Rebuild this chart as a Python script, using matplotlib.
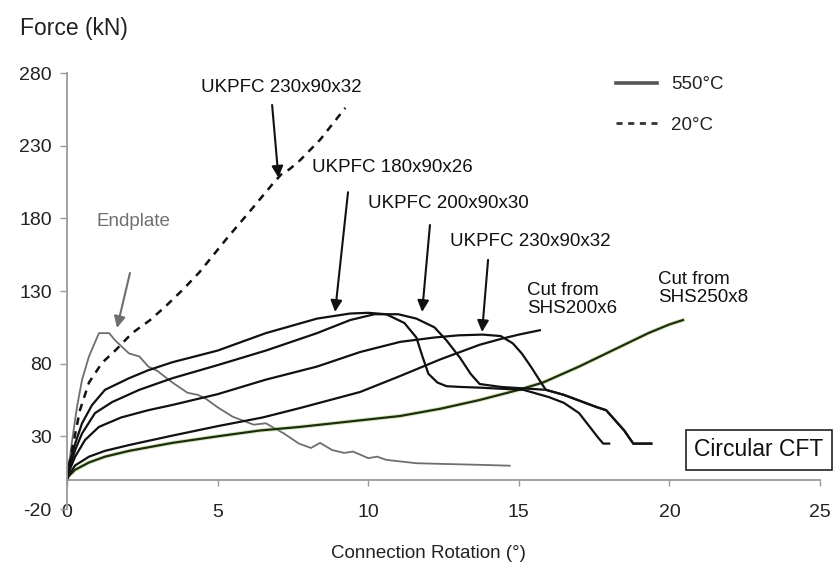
import matplotlib
matplotlib.use('Agg')
import matplotlib.pyplot as plt
from matplotlib.lines import Line2D

plt.rcParams['font.family'] = ['Liberation Sans', 'DejaVu Sans']
plt.rcParams['axes.unicode_minus'] = False

# ---------------- data ----------------
x_ticks = [0, 5, 10, 15, 20, 25]
y_ticks = [-20, 30, 80, 130, 180, 230, 280]

endplate_x = [0, 0.17, 0.33, 0.5, 0.73, 1.06, 1.4, 1.6, 2.06, 2.4, 2.7, 3.0, 3.5, 4.0, 4.35, 4.6,
              5.0, 5.5, 6.2, 6.6, 7.2, 7.7, 8.1, 8.4, 8.8, 9.2, 9.5, 10.0, 10.3, 10.6, 11.6, 12.5,
              13.5, 14.7]
endplate_y = [0, 27, 50, 69, 85, 101, 101, 96, 87, 85, 78, 75, 67, 60, 58.5, 56,
              50, 43.5, 38, 39, 32, 25, 22, 25.5, 20.6, 18.6, 19.5, 15, 16, 13.8, 11.5, 11,
              10.5, 9.8]

ukpfc230_20c_x = [0, 0.1, 0.43, 0.73, 1.16, 1.6, 2.16, 2.76, 3.3, 3.85, 4.4, 5.3, 6.2, 6.8,
                  7.1, 7.4, 7.74, 8.4, 9.24]
ukpfc230_20c_y = [0, 13.7, 48, 67, 80.5, 89, 101, 110, 120, 131, 143, 166, 188, 203,
                  210, 214, 220, 234, 256]

ukpfc180_x = [0, 0.07, 0.27, 0.5, 0.83, 1.26, 2.06, 2.7, 3.5, 5.0, 6.6, 8.3, 9.4, 10.0, 10.6,
              11.2, 11.6, 11.8, 12.0, 12.3, 12.6, 13.05, 13.7, 15.15, 16.0, 16.5, 17.0,
              17.6, 17.8, 18.0]
ukpfc180_y = [0, 11, 25, 39, 51.5, 62, 70, 75.5, 81, 89, 101, 111, 114.5, 115, 114,
              108, 98, 85, 73, 67, 64.5, 64, 63.5, 62, 57, 53, 46,
              30, 25, 25]

ukpfc200_x = [0, 0.05, 0.27, 0.5, 0.93, 1.5, 2.4, 3.5, 5.0, 6.6, 8.3, 9.4, 10.2, 11.0,
              11.6, 12.2, 12.6, 13.05, 13.4, 13.7, 14.4, 15.9, 16.5, 17.6, 17.9, 18.5,
              18.8, 19.4]
ukpfc200_y = [0, 6, 20.6, 32, 46, 53.6, 62, 70, 79, 89, 101, 110, 114, 114,
              111, 105, 96, 84, 73, 66, 64, 62, 58.5, 50, 48, 34,
              25, 25]

ukpfc230_x = [0, 0.05, 0.27, 0.6, 1.06, 1.8, 2.7, 3.5, 5.0, 6.6, 8.3, 9.73, 11.06, 12.2,
              13.0, 13.8, 14.4, 14.8, 15.1, 15.4, 15.8, 15.9, 16.5, 17.6, 17.9, 18.5,
              18.8, 19.4]
ukpfc230_y = [0, 5, 16, 27.5, 36.5, 43, 48, 51.6, 59, 69, 78, 88, 95, 98,
              99.5, 100, 99, 94, 87, 78, 65, 62, 58.5, 50, 48, 34,
              25, 25]

shs200_x = [0, 0.05, 0.27, 0.73, 1.26, 2.06, 3.5, 5.0, 6.5, 7.74, 9.73, 11.06, 12.4, 13.7,
            14.4, 15.0, 15.7]
shs200_y = [0, 3, 10, 16, 20, 24, 30.5, 37, 43, 49.5, 60.5, 71.5, 83, 93,
            97, 100, 103]

shs250_x = [0, 0.05, 0.27, 0.73, 1.26, 2.06, 3.5, 5.0, 6.4, 7.74, 9.73, 11.06, 12.4, 13.7,
            15.0, 15.8, 17.0, 18.1, 19.3, 20.0, 20.45]
shs250_y = [0, 2.5, 7, 12, 16, 20, 25.5, 30, 34, 36.5, 41, 44, 49, 55,
            62, 67, 78, 89, 101, 107, 110]

legend_labels = ['550°C', '20°C']

# ---------------- figure ----------------
fig = plt.figure(figsize=(8.37, 5.77), dpi=100)
ax = fig.add_axes([67 / 837, 68 / 577, 753 / 837, 436 / 577])
ax.set_xlim(0, 25)
ax.set_ylim(-20, 280)
ax.set_xticks(x_ticks)
ax.set_yticks(y_ticks)

for s in ['top', 'right']:
    ax.spines[s].set_visible(False)
ax.spines['bottom'].set_position(('data', 0))
for s in ['left', 'bottom']:
    ax.spines[s].set_color('#9a9a9a')
    ax.spines[s].set_linewidth(1.3)

ax.tick_params(axis='y', direction='out', length=5, width=1, color='#9a9a9a',
               pad=6, labelsize=14, labelcolor='#222222')
ax.tick_params(axis='x', direction='out', length=4, width=1, color='#9a9a9a',
               pad=13, labelsize=14, labelcolor='#222222')

# curves
ax.plot(endplate_x, endplate_y, color='#6e6e6e', lw=1.3)
ax.plot(shs250_x, shs250_y, color='#9ccc60', lw=3.0, alpha=0.4)
ax.plot(shs250_x, shs250_y, color='#1e2d12', lw=1.6)
ax.plot(shs200_x, shs200_y, color='#111111', lw=1.6)
ax.plot(ukpfc230_x, ukpfc230_y, color='#111111', lw=1.6)
ax.plot(ukpfc200_x, ukpfc200_y, color='#111111', lw=1.6)
ax.plot(ukpfc180_x, ukpfc180_y, color='#111111', lw=1.6)
ax.plot(ukpfc230_20c_x, ukpfc230_20c_y, color='#111111', lw=1.8, ls=(0, (3, 2.6)))

# annotations
arrow_kw = dict(arrowstyle='-|>', color='#111111', lw=1.5, mutation_scale=17,
                shrinkA=0, shrinkB=0)
fs = 13.5
ax.annotate('', xy=(7.02, 208), xytext=(6.81, 258), arrowprops=arrow_kw)
ax.text(7.1, 270, 'UKPFC 230x90x32', ha='center', va='center', fontsize=fs, color='#111111')

ax.annotate('', xy=(8.9, 115.6), xytext=(9.33, 198), arrowprops=arrow_kw)
ax.text(10.8, 214.7, 'UKPFC 180x90x26', ha='center', va='center', fontsize=fs, color='#111111')

ax.annotate('', xy=(11.79, 115.6), xytext=(12.05, 175.4), arrowprops=arrow_kw)
ax.text(12.65, 190, 'UKPFC 200x90x30', ha='center', va='center', fontsize=fs, color='#111111')

ax.annotate('', xy=(13.78, 101.8), xytext=(13.98, 151.4), arrowprops=arrow_kw)
ax.text(15.37, 164.4, 'UKPFC 230x90x32', ha='center', va='center', fontsize=fs, color='#111111')

grey_kw = dict(arrow_kw)
grey_kw['color'] = '#6e6e6e'
ax.annotate('', xy=(1.66, 104.6), xytext=(2.09, 142.4), arrowprops=grey_kw)
ax.text(2.22, 177.5, 'Endplate', ha='center', va='center', fontsize=fs, color='#707070')

ax.text(15.27, 124, 'Cut from\nSHS200x6', ha='left', va='center', fontsize=fs,
        color='#111111', linespacing=1.05)
ax.text(19.62, 131.5, 'Cut from\nSHS250x8', ha='left', va='center', fontsize=fs,
        color='#111111', linespacing=1.05)

ax.text(22.97, 20.6, 'Circular CFT', ha='center', va='center', fontsize=16.5, color='#111111',
        bbox=dict(boxstyle='square,pad=0.35', fc='white', ec='#222222', lw=1.2))

handles = [Line2D([], [], color='#555555', lw=2.6),
           Line2D([], [], color='#333333', lw=2.0, ls=(0, (2.2, 2.0)))]
ax.legend(handles, legend_labels, loc='upper left',
          bbox_to_anchor=(616 / 837, 1 - 76 / 577), bbox_transform=fig.transFigure,
          frameon=False, fontsize=fs, handlelength=2.2, handletextpad=0.75,
          labelspacing=1.25, borderpad=0, borderaxespad=0, labelcolor='#222222')

fig.text(20 / 837, 1 - 28 / 577, 'Force (kN)', ha='left', va='center', fontsize=16.5,
         color='#222222')
fig.text(428 / 837, 1 - 553 / 577, 'Connection Rotation (°)', ha='center', va='center',
         fontsize=fs, color='#222222')

fig.savefig('out.png', dpi=100)
